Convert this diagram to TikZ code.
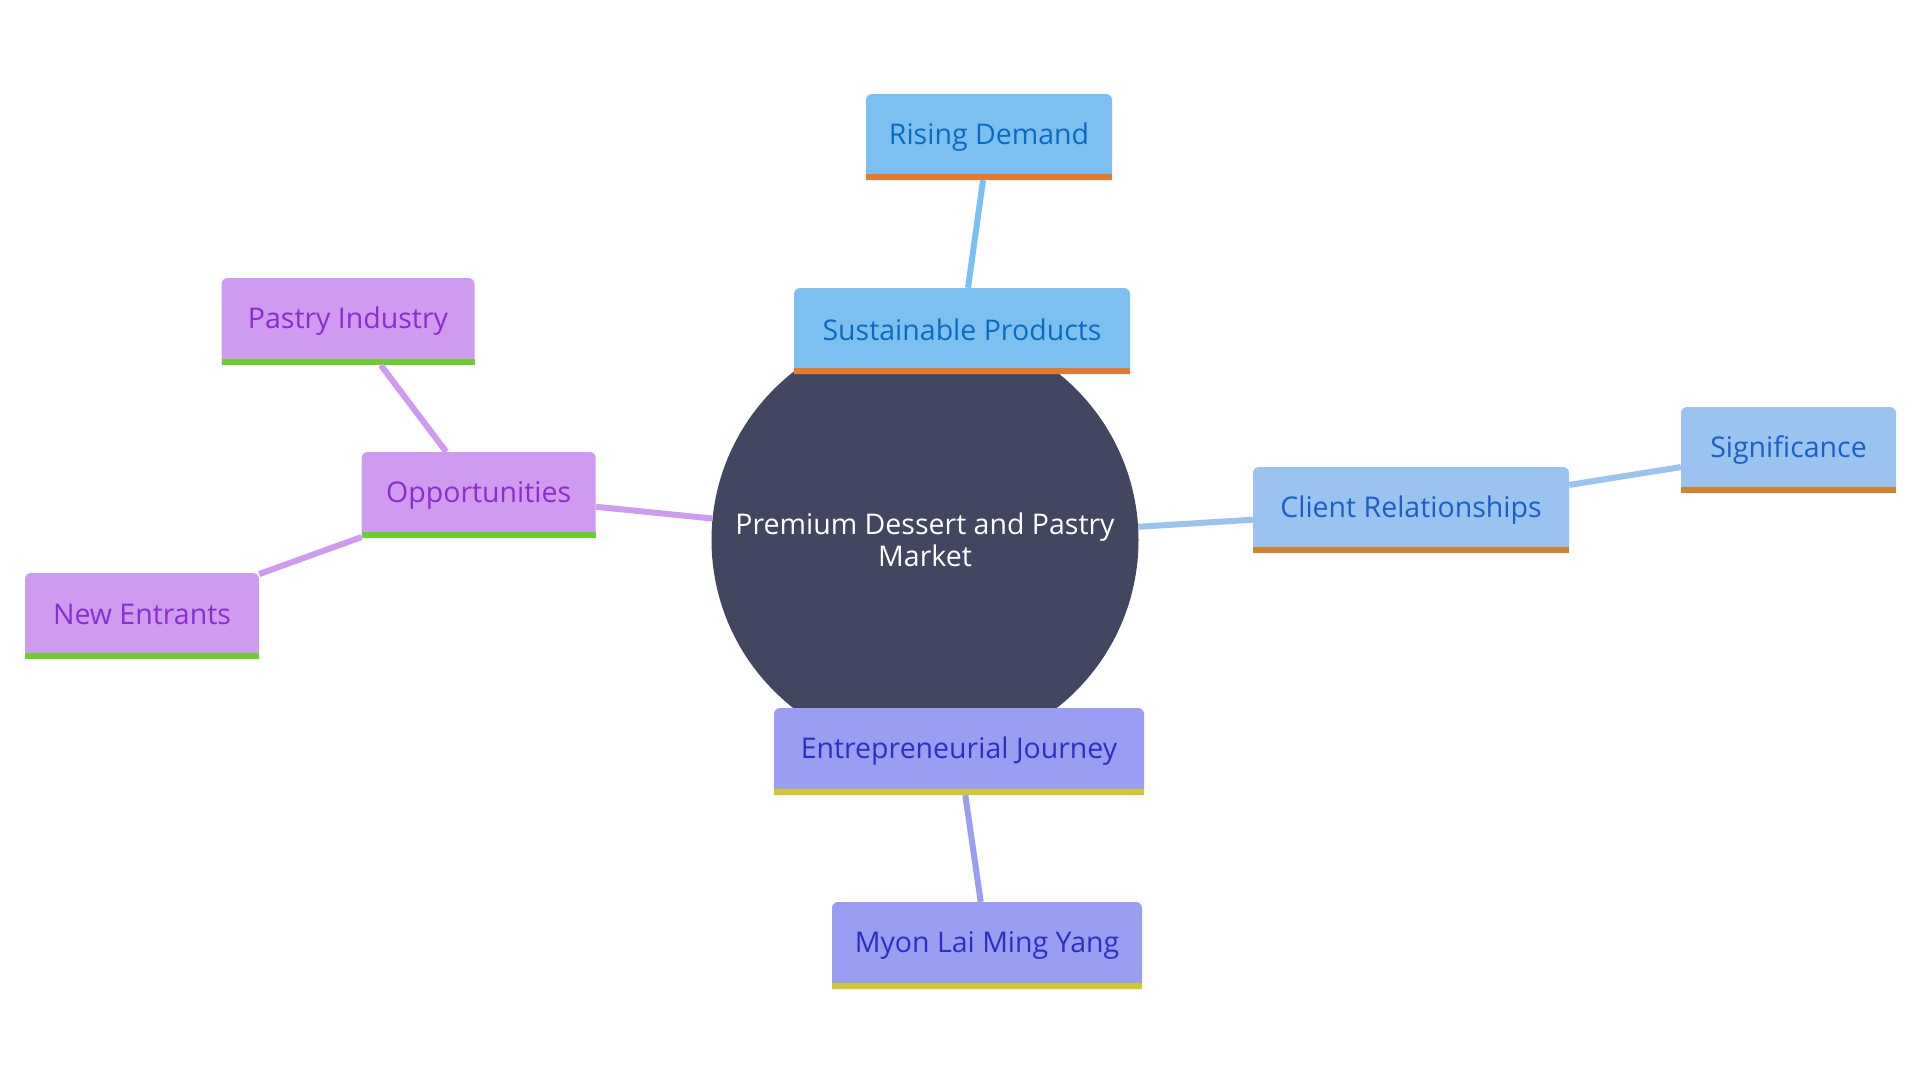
\documentclass[tikz,border=0pt]{standalone}
\usepackage{fontspec}
\setmainfont{Open Sans}
\usetikzlibrary{calc}
\definecolor{circfill}{HTML}{424660}
\definecolor{spfill}{HTML}{7CC0F2}\definecolor{sptext}{HTML}{0B6CBF}\definecolor{spbar}{HTML}{E8792B}
\definecolor{crfill}{HTML}{9AC3F0}\definecolor{crtext}{HTML}{1D5FC4}\definecolor{crbar}{HTML}{D4822A}
\definecolor{opfill}{HTML}{CE9BF1}\definecolor{optext}{HTML}{8A2ECC}\definecolor{opbar}{HTML}{6CCE2A}
\definecolor{enfill}{HTML}{9A9EF2}\definecolor{entext}{HTML}{2B30C2}\definecolor{enbar}{HTML}{D2C82A}
\tikzset{
  mmtext/.style={inner sep=0pt, font=\fontsize{28.5}{32}\selectfont},
  link/.style={line width=6pt},
}
\newcommand\mmnode[7]{% name, x, y, w, h, prefix, text
  \begin{scope}[shift={(#2,#3)}]
    \fill[#6fill] ({-#4/2},{#5/2}) {[rounded corners=6pt] -- ({-#4/2},{-#5/2}) -- ({#4/2},{-#5/2})} -- ({#4/2},{#5/2}) -- cycle;
    \fill[#6bar] ({-#4/2},{#5/2-6}) rectangle ({#4/2},{#5/2});
    \node[mmtext, text=#6text, minimum width=#4, minimum height=#5] (#1) at (0,0) {\raisebox{3pt}{#7}};
  \end{scope}}
\begin{document}
\begin{tikzpicture}[x=1pt,y=-1pt]
\useasboundingbox (0,0) rectangle (1920,1080);
\node[circle, fill=circfill, minimum size=427, inner sep=0pt, text=white, align=center,
      font=\fontsize{28.5}{32}\selectfont] (circ) at (925,540) {Premium Dessert and Pastry\\Market};
\mmnode{sust}{962}{331}{336}{86}{sp}{Sustainable Products}
\mmnode{rise}{989}{137}{246}{86}{sp}{Rising Demand}
\mmnode{client}{1411}{510}{316}{86}{cr}{Client Relationships}
\mmnode{sig}{1788.5}{450}{215}{86}{cr}{Significance}
\mmnode{opp}{478.7}{495}{234}{86}{op}{Opportunities}
\mmnode{pastry}{348}{321.5}{253}{87}{op}{Pastry Industry}
\mmnode{newe}{142}{616}{234}{86}{op}{New Entrants}
\mmnode{entre}{959}{751.5}{370}{87}{en}{Entrepreneurial Journey}
\mmnode{myon}{987}{945.5}{310}{87}{en}{Myon Lai Ming Yang}
\draw[link, spfill] (sust) -- (rise);
\draw[link, crfill] (circ) -- (client);
\draw[link, crfill] (client) -- (sig);
\draw[link, opfill] (circ) -- (opp);
\draw[link, opfill] (opp) -- (pastry);
\draw[link, opfill] (opp) -- (newe);
\draw[link, enfill] (entre) -- (myon);
\end{tikzpicture}
\end{document}
